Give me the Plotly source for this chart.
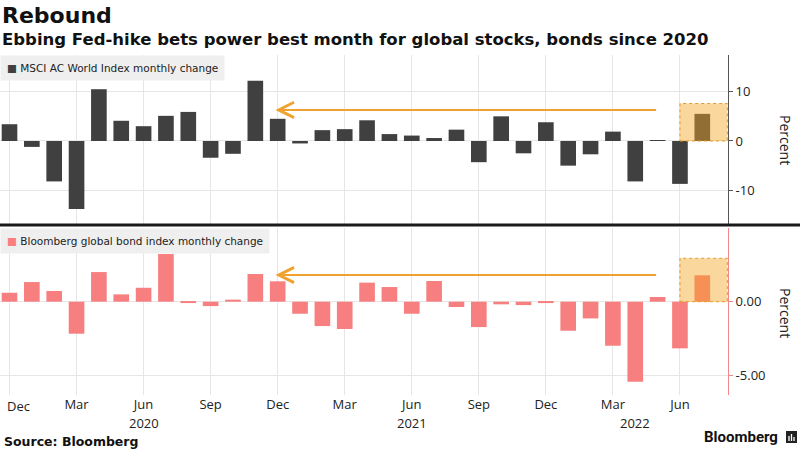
import plotly.graph_objects as go

months = ["Dec 2019", "Jan 2020", "Feb 2020", "Mar 2020", "Apr 2020", "May 2020",
          "Jun 2020", "Jul 2020", "Aug 2020", "Sep 2020", "Oct 2020", "Nov 2020",
          "Dec 2020", "Jan 2021", "Feb 2021", "Mar 2021", "Apr 2021", "May 2021",
          "Jun 2021", "Jul 2021", "Aug 2021", "Sep 2021", "Oct 2021", "Nov 2021",
          "Dec 2021", "Jan 2022", "Feb 2022", "Mar 2022", "Apr 2022", "May 2022",
          "Jun 2022", "Jul 2022"]

msci_change = [3.4, -1.2, -8.2, -13.8, 10.5, 4.1, 3.0, 5.1, 5.9, -3.4, -2.6, 12.2,
               4.5, -0.5, 2.2, 2.4, 4.2, 1.4, 1.1, 0.6, 2.3, -4.3, 5.0, -2.5,
               3.8, -5.0, -2.7, 1.9, -8.2, 0.1, -8.7, 5.5]

bond_change = [0.61, 1.34, 0.73, -2.18, 2.02, 0.50, 0.95, 3.25, -0.09, -0.30, 0.14, 1.89,
               1.39, -0.82, -1.66, -1.86, 1.30, 1.00, -0.82, 1.41, -0.36, -1.73, -0.18, -0.23,
               -0.09, -1.98, -1.14, -3.00, -5.45, 0.32, -3.18, 1.80]

tick_months = ["Dec 2019", "Mar 2020", "Jun 2020", "Sep 2020", "Dec 2020", "Mar 2021",
               "Jun 2021", "Sep 2021", "Dec 2021", "Mar 2022", "Jun 2022"]
tick_labels = ["Dec", "Mar", "Jun", "Sep", "Dec", "Mar",
               "Jun", "Sep", "Dec", "Mar", "Jun"]
year_labels = ["2020", "2021", "2022"]
year_months = ["Jun 2020", "Jun 2021", "Apr 2022"]

stock_name = "MSCI AC World Index monthly change"
bond_name = "Bloomberg global bond index monthly change"

STOCK_COLOR = "#404040"
BOND_COLOR = "#F77F7F"
ORANGE = "#F0A22E"
GRID = "#E6E6E6"
TXT = "#222222"

fig = go.Figure()
fig.add_trace(go.Bar(x=months, y=msci_change, marker_color=STOCK_COLOR,
                     marker_line_width=0, xaxis="x", yaxis="y", showlegend=False,
                     name=stock_name))
fig.add_trace(go.Bar(x=months, y=bond_change, marker_color=BOND_COLOR,
                     marker_line_width=0, xaxis="x2", yaxis="y2", showlegend=False,
                     name=bond_name))

xrange = [-0.425, 32.15]
tickfont = dict(family="Open Sans", size=13, color=TXT)

# first month label is drawn separately (shifted right so it is not cut at the edge)
axis_ticktext = [""] + tick_labels[1:]

fig.update_layout(
    width=800, height=450,
    margin=dict(l=0, r=72, t=55, b=55, autoexpand=False),
    paper_bgcolor="white", plot_bgcolor="white",
    bargap=0.3,
    xaxis=dict(type="category", range=xrange, anchor="y", tickvals=tick_months,
               ticktext=axis_ticktext, showticklabels=False, showgrid=True,
               gridcolor=GRID, gridwidth=1, zeroline=False, ticks="", automargin=False),
    yaxis=dict(domain=[0.5, 1.0], range=[-17.04, 17.44], side="right", anchor="x",
               tickvals=[-10, 0, 10], ticktext=["-10", "0", "10"], showgrid=True,
               gridcolor=GRID, zeroline=False, showline=True, linecolor="#555555",
               linewidth=1, ticks="outside", ticklen=4, tickcolor="#555555",
               tickfont=tickfont, automargin=False),
    xaxis2=dict(type="category", range=xrange, anchor="y2", tickvals=tick_months,
                ticktext=axis_ticktext, showgrid=True, gridcolor=GRID, gridwidth=1,
                zeroline=False, ticks="", tickfont=tickfont, tickangle=0,
                automargin=False),
    yaxis2=dict(domain=[0.0, 0.491], range=[-6.36, 5.02], side="right", anchor="x2",
                tickvals=[-5, 0], ticktext=["-5.00", "0.00"], showgrid=True,
                gridcolor=GRID, zeroline=False, showline=True, linecolor="#F08A8A",
                linewidth=1, ticks="outside", ticklen=4, tickcolor="#F08A8A",
                tickfont=tickfont, automargin=False),
)

shapes = []
# highlight boxes
shapes.append(dict(type="rect", xref="x", yref="y", x0=30, x1=32.12, y0=0, y1=7.6,
                   fillcolor="rgba(245,166,35,0.45)", layer="above",
                   line=dict(color="#E39A2A", width=1, dash="dot")))
shapes.append(dict(type="rect", xref="x2", yref="y2", x0=30, x1=32.12, y0=0, y1=2.96,
                   fillcolor="rgba(245,166,35,0.45)", layer="above",
                   line=dict(color="#E39A2A", width=1, dash="dot")))
# divider line between panels
shapes.append(dict(type="line", xref="paper", yref="paper", x0=0, x1=1.1, y0=0.5, y1=0.5,
                   line=dict(color="#1a1a1a", width=3), layer="above"))
# bloomberg icon
shapes.append(dict(type="rect", xref="paper", yref="paper", x0=786 / 728, x1=797 / 728,
                   y0=(395 - 443) / 340, y1=(395 - 431) / 340, fillcolor="#222222",
                   line=dict(width=0)))
for px, top in ((789, 436), (791.5, 434), (794, 437)):
    shapes.append(dict(type="line", xref="paper", yref="paper", x0=px / 728, x1=px / 728,
                       y0=(395 - 441) / 340, y1=(395 - top) / 340,
                       line=dict(color="white", width=1.3)))
fig.update_layout(shapes=shapes)

ann = []
# arrows
ann.append(dict(xref="x", yref="y", x=11.9, y=6.3, axref="x", ayref="y", ax=29, ay=6.3,
                text="", showarrow=True, arrowhead=5, arrowsize=1.5, arrowwidth=2,
                arrowcolor=ORANGE))
ann.append(dict(xref="x2", yref="y2", x=11.9, y=1.82, axref="x2", ayref="y2", ax=29, ay=1.82,
                text="", showarrow=True, arrowhead=5, arrowsize=1.5, arrowwidth=2,
                arrowcolor=ORANGE))
# legend boxes
ann.append(dict(xref="paper", yref="paper", x=0, y=1.0, xanchor="left", yanchor="top",
                showarrow=False, align="left",
                text=f"<span style='color:{STOCK_COLOR}'>\u25A0</span> {stock_name}",
                font=dict(family="DejaVu Sans", size=10.5, color=TXT),
                bgcolor="#EFEFEF", borderpad=6))
ann.append(dict(xref="paper", yref="paper", x=0, y=0.491, xanchor="left", yanchor="top",
                showarrow=False, align="left",
                text=f"<span style='color:{BOND_COLOR}'>\u25A0</span> {bond_name}",
                font=dict(family="DejaVu Sans", size=10.5, color=TXT),
                bgcolor="#EFEFEF", borderpad=6))
# first month label
ann.append(dict(xref="x2", yref="paper", x=tick_months[0], y=(395 - 406) / 340,
                text=tick_labels[0], showarrow=False, xanchor="left", yanchor="middle",
                xshift=-5, font=tickfont))
# years
for lbl, m in zip(year_labels, year_months):
    ann.append(dict(xref="x2", yref="paper", x=m, y=(395 - 423) / 340, text=lbl,
                    showarrow=False, xanchor="center", yanchor="middle", font=tickfont))
# Percent titles
ann.append(dict(xref="paper", yref="paper", x=786 / 728, y=(395 - 140) / 340, text="Percent",
                textangle=90, showarrow=False, xanchor="center", yanchor="middle",
                font=dict(family="Open Sans", size=14, color=TXT)))
ann.append(dict(xref="paper", yref="paper", x=786 / 728, y=(395 - 313) / 340, text="Percent",
                textangle=90, showarrow=False, xanchor="center", yanchor="middle",
                font=dict(family="Open Sans", size=14, color=TXT)))
# titles
ann.append(dict(xref="paper", yref="paper", x=0, y=(395 - 16) / 340, text="<b>Rebound</b>",
                showarrow=False, xanchor="left", yanchor="middle",
                font=dict(family="DejaVu Sans", size=22, color="#111111")))
ann.append(dict(xref="paper", yref="paper", x=0, y=(395 - 40) / 340,
                text="<b>Ebbing Fed-hike bets power best month for global stocks, bonds since 2020</b>",
                showarrow=False, xanchor="left", yanchor="middle",
                font=dict(family="DejaVu Sans", size=16.5, color="#111111")))
# source & logo
ann.append(dict(xref="paper", yref="paper", x=0.003, y=(395 - 441) / 340,
                text="<b>Source: Bloomberg</b>", showarrow=False, xanchor="left",
                yanchor="middle", font=dict(family="DejaVu Sans", size=12.5, color="#111111")))
ann.append(dict(xref="paper", yref="paper", x=780 / 728, y=(395 - 437) / 340,
                text="<b>Bloomberg</b>", showarrow=False, xanchor="right",
                yanchor="middle", font=dict(family="Roboto", size=15, color="#111111")))
fig.update_layout(annotations=ann)

fig.write_html("out.html", config={"displayModeBar": False},
               post_script="document.body.style.margin='0';document.body.style.overflow='hidden';")
